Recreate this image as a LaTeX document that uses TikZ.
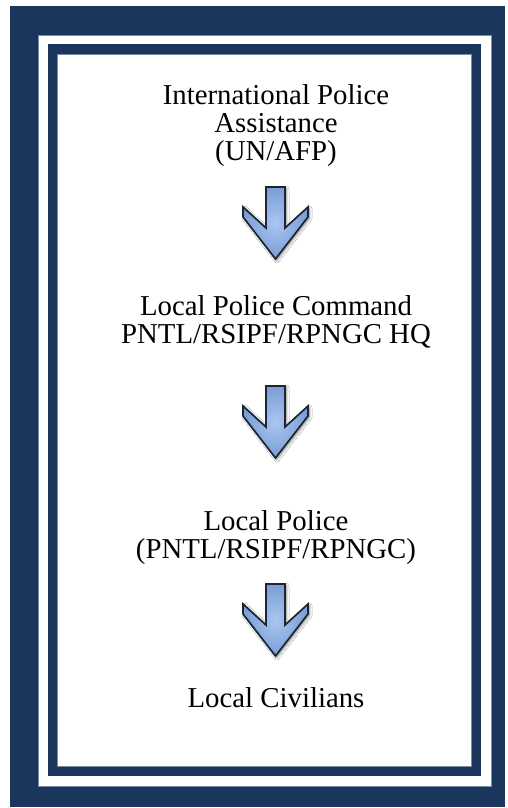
\documentclass[tikz,border=0pt]{standalone}
\usepackage{fontspec}
\setmainfont{Liberation Serif}
\usetikzlibrary{shadows.blur}
\definecolor{navy}{HTML}{1B365D}
\definecolor{edgegray}{HTML}{7A8BA3}
\definecolor{arrowin}{HTML}{A9C6F2}
\definecolor{arrowout}{HTML}{7A9DD4}
\definecolor{arrowline}{HTML}{1C2633}
\tikzset{
  txt/.style={anchor=base, inner sep=0pt, font=\fontsize{28.8}{30}\selectfont, text=black},
  arr/.style={draw=arrowline, line width=1.7pt, line join=miter, inner color=arrowin, outer color=arrowout,
    blur shadow={shadow xshift=1.5pt, shadow yshift=-1.5pt, shadow blur steps=6, shadow opacity=45, shadow blur radius=2.5pt}},
  frameedge/.style={draw=edgegray, line width=0.6pt},
  downarrow/.pic={
    \path[arr] (-9.5,0) -- (9.5,0) -- (9.5,41) -- (32.5,20) -- (32.5,30) -- (0,72)
      -- (-32.5,30) -- (-32.5,20) -- (-9.5,41) -- cycle;
  }
}
\begin{document}
\begin{tikzpicture}[x=1pt,y=-1pt]
\useasboundingbox (0,0) rectangle (507,808);
\fill[white] (0,0) rectangle (507,808);
% frame
\fill[navy] (10,6) rectangle (505,807);
\fill[white] (38,35) rectangle (491,786);
\fill[navy] (48,44) rectangle (481,776);
\fill[white] (57,54) rectangle (471,766);
\path[frameedge] (38,35) rectangle (491,786);
\path[frameedge] (57,54) rectangle (471,766);
% texts
\node[txt] (t1a) at (276,104) {International Police};
\node[txt] (t1b) at (276,132) {Assistance};
\node[txt] (t1c) at (276,160) {(UN/AFP)};
\node[txt] (t2a) at (276,315) {Local Police Command};
\node[txt] (t2b) at (276,343) {PNTL/RSIPF/RPNGC HQ};
\node[txt] (t3a) at (276,530) {Local Police};
\node[txt] (t3b) at (276,558) {(PNTL/RSIPF/RPNGC)};
\node[txt] (t4) at (276,707) {Local Civilians};
% arrows
\pic at (275.5,187) {downarrow};
\pic at (275.5,386) {downarrow};
\pic at (275.5,584) {downarrow};
\end{tikzpicture}
\end{document}
